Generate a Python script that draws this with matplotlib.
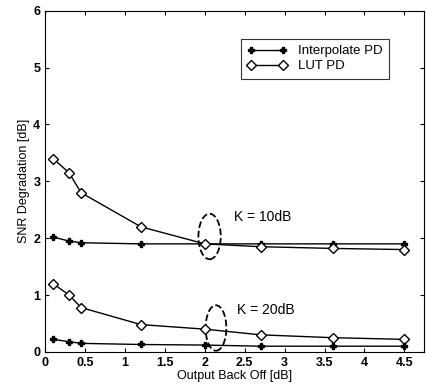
import matplotlib
matplotlib.use('Agg')
import matplotlib.pyplot as plt
from matplotlib.patches import Ellipse

plt.rcParams['font.family'] = ['Liberation Sans', 'DejaVu Sans']

backoff = [0.1, 0.3, 0.45, 1.2, 2.0, 2.7, 3.6, 4.5]
interp_k10 = [2.02, 1.95, 1.92, 1.9, 1.9, 1.9, 1.9, 1.9]
lut_k10 = [3.4, 3.15, 2.8, 2.2, 1.9, 1.85, 1.82, 1.8]
lut_k20 = [1.2, 1.0, 0.78, 0.48, 0.4, 0.3, 0.25, 0.22]
interp_k20 = [0.22, 0.18, 0.15, 0.13, 0.12, 0.1, 0.1, 0.1]

fig = plt.figure(figsize=(4.26, 3.85), dpi=100)
ax = fig.add_axes([0.106, 0.086, 0.89, 0.886])

ax.plot(backoff, interp_k10, color='k', lw=1, marker='P', ms=5, label='Interpolate PD')
ax.plot(backoff, lut_k10, color='k', lw=1, marker='D', ms=5.5, mfc='white', label='LUT PD')
ax.plot(backoff, lut_k20, color='k', lw=1, marker='D', ms=5.5, mfc='white')
ax.plot(backoff, interp_k20, color='k', lw=1, marker='P', ms=5)

ax.add_patch(Ellipse((2.06, 2.03), 0.28, 0.8, fill=False, ls='--', lw=1.3, color='k'))
ax.add_patch(Ellipse((2.14, 0.42), 0.26, 0.8, fill=False, ls='--', lw=1.3, color='k'))

ax.text(2.37, 2.38, 'K = 10dB', fontsize=10, va='center')
ax.text(2.4, 0.74, 'K = 20dB', fontsize=10, va='center')

ax.set_xlim(0, 4.75)
ax.set_ylim(0, 6)
ax.set_xticks([0, 0.5, 1, 1.5, 2, 2.5, 3, 3.5, 4, 4.5])
ax.set_xticklabels(['0', '0.5', '1', '1.5', '2', '2.5', '3', '3.5', '4', '4.5'])
ax.set_yticks(range(7))
ax.tick_params(direction='in', top=True, right=True, labelsize=9, length=3)
for lab in ax.get_xticklabels() + ax.get_yticklabels():
    lab.set_fontweight('bold')

ax.set_xlabel('Output Back Off [dB]', fontsize=9, labelpad=1)
ax.set_ylabel('SNR Degradation [dB]', fontsize=9, labelpad=2)

leg = ax.legend(loc='upper right', bbox_to_anchor=(0.924, 0.938), numpoints=2,
                handlelength=3, fontsize=9.5, frameon=True, fancybox=False,
                edgecolor='k', borderpad=0.5, labelspacing=0.2)
leg.get_frame().set_linewidth(0.8)

fig.savefig('out.png', dpi=100)
